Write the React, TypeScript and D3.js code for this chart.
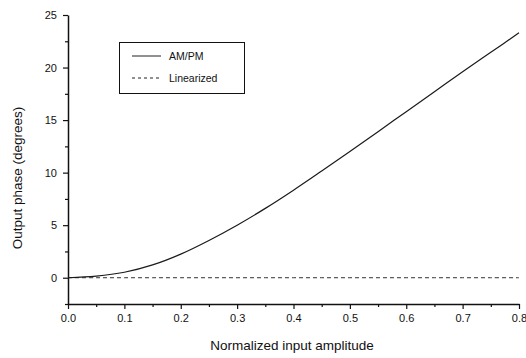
import { useEffect, useRef } from 'react';
import * as d3 from 'd3';

// values
const amplitude = [0, 0.05, 0.1, 0.15, 0.2, 0.25, 0.3, 0.35, 0.4, 0.45, 0.5, 0.55, 0.6, 0.65, 0.7, 0.75, 0.8];
const amPmPhase = [0, 0.15, 0.52, 1.22, 2.25, 3.55, 5.0, 6.6, 8.33, 10.15, 12.0, 13.9, 15.8, 17.7, 19.6, 21.45, 23.3];
const linearizedPhase = [0, 0, 0, 0, 0, 0, 0, 0, 0, 0, 0, 0, 0, 0, 0, 0, 0];

const xTicks = [0, 0.1, 0.2, 0.3, 0.4, 0.5, 0.6, 0.7, 0.8];
const xMinorTicks = [0.05, 0.15, 0.25, 0.35, 0.45, 0.55, 0.65, 0.75];
const yTicks = [0, 5, 10, 15, 20, 25];
const yMinorTicks = [-2.5, 2.5, 7.5, 12.5, 17.5, 22.5];

const seriesNames = ['AM/PM', 'Linearized'];

export default function App() {
  const svgRef = useRef<SVGSVGElement>(null);
  const width = 526;
  const height = 358;

  useEffect(() => {
    if (!svgRef.current) return;
    const svg = d3.select(svgRef.current);
    svg.selectAll('*').remove();

    const margin = { top: 15, right: 7, bottom: 54, left: 68 };
    const x = d3.scaleLinear().domain([0, 0.8]).range([margin.left, width - margin.right]);
    const y = d3.scaleLinear().domain([-2.5, 25]).range([height - margin.bottom, margin.top]);
    const font = 'Liberation Sans, Arial, sans-serif';
    const ink = '#111';

    const xAxis = svg
      .append('g')
      .attr('transform', `translate(0,${y(-2.5)})`)
      .call(d3.axisBottom(x).tickValues(xTicks).tickSize(5).tickPadding(5).tickSizeOuter(0).tickFormat(d3.format('.1f')));
    svg
      .append('g')
      .attr('transform', `translate(0,${y(-2.5)})`)
      .call(d3.axisBottom(x).tickValues(xMinorTicks).tickSize(3).tickFormat(() => '').tickSizeOuter(0))
      .call((g) => g.select('.domain').remove());

    const yAxis = svg
      .append('g')
      .attr('transform', `translate(${x(0)},0)`)
      .call(d3.axisLeft(y).tickValues(yTicks).tickSize(5).tickPadding(6).tickSizeOuter(0).tickFormat(d3.format('d')));
    svg
      .append('g')
      .attr('transform', `translate(${x(0)},0)`)
      .call(d3.axisLeft(y).tickValues(yMinorTicks).tickSize(3).tickFormat(() => '').tickSizeOuter(0))
      .call((g) => g.select('.domain').remove());

    [xAxis, yAxis].forEach((g) => {
      g.select('.domain').attr('stroke', ink).attr('stroke-width', 1.5);
      g.selectAll('text').attr('font-family', font).attr('font-size', 11).attr('fill', ink);
    });
    svg.selectAll('.tick line').attr('stroke', ink).attr('stroke-width', 1.2);

    const pts = (vals: number[]) => amplitude.map((a, i) => [a, vals[i]] as [number, number]);
    const line = d3
      .line<[number, number]>()
      .x((d) => x(d[0]))
      .y((d) => y(d[1]))
      .curve(d3.curveCatmullRom);

    svg
      .append('path')
      .datum(pts(linearizedPhase))
      .attr('fill', 'none')
      .attr('stroke', '#333')
      .attr('stroke-width', 1)
      .attr('stroke-dasharray', '4 3')
      .attr('d', line);

    svg
      .append('path')
      .datum(pts(amPmPhase))
      .attr('fill', 'none')
      .attr('stroke', '#1a1a1a')
      .attr('stroke-width', 1.2)
      .attr('d', line);

    // legend
    const legend = svg.append('g');
    legend
      .append('rect')
      .attr('x', 119.5)
      .attr('y', 42.5)
      .attr('width', 125)
      .attr('height', 51)
      .attr('fill', 'white')
      .attr('stroke', ink)
      .attr('stroke-width', 1);
    seriesNames.forEach((name, i) => {
      const ly = 56 + i * 22;
      legend
        .append('line')
        .attr('x1', 132)
        .attr('x2', 161)
        .attr('y1', ly)
        .attr('y2', ly)
        .attr('stroke', '#222')
        .attr('stroke-width', 1)
        .attr('stroke-dasharray', i === 1 ? '3 3' : null);
      legend
        .append('text')
        .attr('x', 169)
        .attr('y', ly + 4)
        .attr('font-family', font)
        .attr('font-size', 10.5)
        .attr('fill', ink)
        .text(name);
    });

    svg
      .append('text')
      .attr('x', 292)
      .attr('y', 350)
      .attr('text-anchor', 'middle')
      .attr('font-family', font)
      .attr('font-size', 13.5)
      .attr('fill', ink)
      .text('Normalized input amplitude');

    svg
      .append('text')
      .attr('transform', `translate(22,${178}) rotate(-90)`)
      .attr('text-anchor', 'middle')
      .attr('font-family', font)
      .attr('font-size', 13.5)
      .attr('fill', ink)
      .text('Output phase (degrees)');
  }, []);

  return (
    <svg
      ref={svgRef}
      width={width}
      height={height}
      style={{ position: 'absolute', left: 0, top: 0, background: 'white' }}
    />
  );
}
